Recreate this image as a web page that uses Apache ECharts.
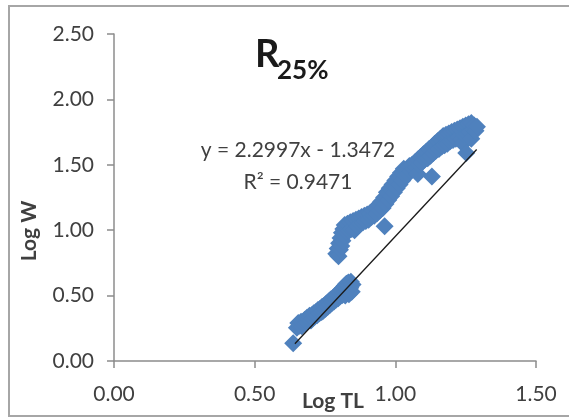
<!DOCTYPE html>
<html>
<head>
<meta charset="utf-8">
<script src="https://cdn.jsdelivr.net/npm/echarts@6/dist/echarts.min.js"></script>
<style>
  html, body { margin: 0; padding: 0; background: #ffffff; }
  #chart { width: 569px; height: 419px; }
</style>
</head>
<body>
<div id="chart"></div>
<script>
// Log total length (x) against log weight (y), one point per fish
const logTL = [
  0.637,
  // small fish
  0.650, 0.655, 0.660, 0.665, 0.668, 0.672, 0.678, 0.680, 0.686, 0.688, 0.692, 0.695,
  0.700, 0.703, 0.706, 0.710, 0.714, 0.718, 0.722, 0.725, 0.730, 0.733, 0.738, 0.740,
  0.744, 0.748, 0.752, 0.755, 0.760, 0.763, 0.768, 0.770, 0.775, 0.778, 0.782, 0.785,
  0.790, 0.793, 0.797, 0.800, 0.804, 0.808, 0.812, 0.815, 0.818, 0.820, 0.822, 0.826,
  0.830, 0.833, 0.835, 0.836, 0.840, 0.842, 0.845, 0.848,
  // medium fish
  0.790, 0.795, 0.798, 0.800, 0.803, 0.805, 0.808, 0.810, 0.812, 0.815, 0.818, 0.820,
  0.825, 0.830, 0.835, 0.840, 0.845, 0.850, 0.855, 0.860, 0.865, 0.870, 0.875, 0.880,
  0.885, 0.890, 0.895, 0.900, 0.905, 0.910, 0.915, 0.920, 0.925, 0.930, 0.935, 0.940,
  0.945, 0.950, 0.955, 0.960, 0.962, 0.965, 0.970, 0.975, 0.980, 0.985, 0.990, 0.995,
  1.000, 1.005, 1.010, 1.015, 1.020, 1.025, 1.030, 1.035,
  // large fish
  1.040, 1.045, 1.050, 1.055, 1.060, 1.065, 1.070, 1.075, 1.080, 1.080, 1.085, 1.090,
  1.095, 1.100, 1.105, 1.110, 1.115, 1.120, 1.125, 1.130, 1.132, 1.135, 1.140, 1.145,
  1.150, 1.155, 1.160, 1.165, 1.170, 1.175, 1.180, 1.185, 1.190, 1.195, 1.200, 1.205,
  1.210, 1.215, 1.220, 1.225, 1.230, 1.235, 1.240, 1.240, 1.245, 1.250, 1.252, 1.255,
  1.260, 1.265, 1.270, 1.270, 1.275, 1.280, 1.285, 1.290
];
const logW = [
  0.135,
  0.255, 0.290, 0.270, 0.300, 0.265, 0.285, 0.315, 0.290, 0.330, 0.300, 0.320, 0.345,
  0.310, 0.350, 0.325, 0.365, 0.340, 0.375, 0.350, 0.390, 0.365, 0.400, 0.375, 0.415,
  0.385, 0.425, 0.400, 0.440, 0.415, 0.455, 0.430, 0.470, 0.445, 0.480, 0.455, 0.495,
  0.470, 0.510, 0.480, 0.530, 0.495, 0.545, 0.505, 0.560, 0.520, 0.575, 0.500, 0.590,
  0.540, 0.600, 0.510, 0.575, 0.560, 0.605, 0.530, 0.585,
  0.820, 0.860, 0.800, 0.900, 0.850, 0.940, 0.880, 0.980, 0.920, 1.010, 0.960, 1.040,
  0.990, 1.050, 1.000, 1.060, 1.010, 1.070, 1.000, 1.080, 1.030, 1.090, 1.050, 1.100,
  1.060, 1.110, 1.070, 1.120, 1.080, 1.130, 1.100, 1.150, 1.110, 1.170, 1.130, 1.190,
  1.150, 1.220, 1.170, 1.250, 1.030, 1.200, 1.290, 1.230, 1.320, 1.260, 1.350, 1.290,
  1.380, 1.320, 1.410, 1.350, 1.440, 1.380, 1.470, 1.420,
  1.460, 1.430, 1.490, 1.450, 1.500, 1.470, 1.520, 1.480, 1.540, 1.430, 1.500, 1.560,
  1.520, 1.580, 1.540, 1.600, 1.550, 1.620, 1.570, 1.410, 1.640, 1.590, 1.660, 1.610,
  1.680, 1.620, 1.700, 1.640, 1.720, 1.650, 1.730, 1.660, 1.740, 1.680, 1.750, 1.690,
  1.760, 1.700, 1.770, 1.710, 1.780, 1.700, 1.790, 1.660, 1.730, 1.800, 1.590, 1.740,
  1.810, 1.750, 1.820, 1.700, 1.770, 1.800, 1.760, 1.790
];

// Fitted power-law line in log form, as printed on the chart
const slope = 2.2997;
const intercept = -1.3472;
const rSquared = 0.9471;
const fitRange = [0.643, 1.289];

// Axis ticks
const xTicks = [0, 0.5, 1.0, 1.5];
const yTicks = [0, 0.5, 1.0, 1.5, 2.0, 2.5];

const points = logTL.map((x, i) => [x, logW[i]]);
const fitLine = fitRange.map(x => [x, slope * x + intercept]);

const FONT = 'Lato, "Liberation Sans", sans-serif';
const TEXT = '#404040';
const AXIS = '#8c8c8c';

const chart = echarts.init(document.getElementById('chart'), null, { renderer: 'canvas' });

chart.setOption({
  animation: false,
  backgroundColor: '#ffffff',
  grid: { left: 114, top: 34, width: 422, height: 327, containLabel: false },
  xAxis: {
    type: 'value',
    min: xTicks[0], max: xTicks[xTicks.length - 1], interval: 0.5,
    axisLine: { show: true, onZero: false, lineStyle: { color: AXIS, width: 1.5 } },
    axisTick: { show: true, inside: false, length: 7, lineStyle: { color: AXIS, width: 1.5 } },
    splitLine: { show: false },
    axisLabel: { margin: 23, color: TEXT, fontFamily: FONT, fontSize: 21, formatter: v => v.toFixed(2) }
  },
  yAxis: {
    type: 'value',
    min: yTicks[0], max: yTicks[yTicks.length - 1], interval: 0.5,
    axisLine: { show: true, onZero: false, lineStyle: { color: AXIS, width: 1.5 } },
    axisTick: { show: true, inside: false, length: 7, lineStyle: { color: AXIS, width: 1.5 } },
    splitLine: { show: false },
    axisLabel: { margin: 20, color: TEXT, fontFamily: FONT, fontSize: 21, formatter: v => v.toFixed(2) }
  },
  series: [
    {
      type: 'scatter',
      data: points,
      symbol: 'diamond',
      symbolSize: 18,
      itemStyle: { color: '#4F81BD', opacity: 1 },
      z: 2
    },
    {
      type: 'line',
      data: fitLine,
      symbol: 'none',
      lineStyle: { color: '#1a1a1a', width: 1.3 },
      z: 3
    }
  ],
  graphic: [
    // chart area frame
    { type: 'rect', shape: { x: 9, y: 6, width: 600, height: 410 },
      style: { fill: 'none', stroke: '#a6a6a6', lineWidth: 2 }, silent: true },
    // title R with 25% subscript
    { type: 'text', left: 255, top: 36,
      style: { text: 'R', font: 'bold 38px ' + FONT, fill: '#1a1a1a' } },
    { type: 'text', left: 277, top: 58,
      style: { text: '25%', font: 'bold 26px ' + FONT, fill: '#1a1a1a' } },
    // regression equation and R²
    { type: 'text', x: 298, y: 150,
      style: { text: 'y = ' + slope.toFixed(4) + 'x - ' + Math.abs(intercept).toFixed(4),
               font: '21px ' + FONT, fill: TEXT, align: 'center', verticalAlign: 'middle' } },
    { type: 'text', x: 298, y: 182,
      style: { text: 'R\u00B2 = ' + rSquared.toFixed(4),
               font: '21px ' + FONT, fill: TEXT, align: 'center', verticalAlign: 'middle' } },
    // axis titles
    { type: 'text', x: 333, y: 401,
      style: { text: 'Log TL', font: 'bold 21px ' + FONT, fill: TEXT, align: 'center', verticalAlign: 'middle' } },
    { type: 'text', x: 29, y: 231, rotation: Math.PI / 2,
      style: { text: 'Log W', font: 'bold 21px ' + FONT, fill: TEXT, align: 'center', verticalAlign: 'middle' } }
  ]
});
</script>
</body>
</html>
